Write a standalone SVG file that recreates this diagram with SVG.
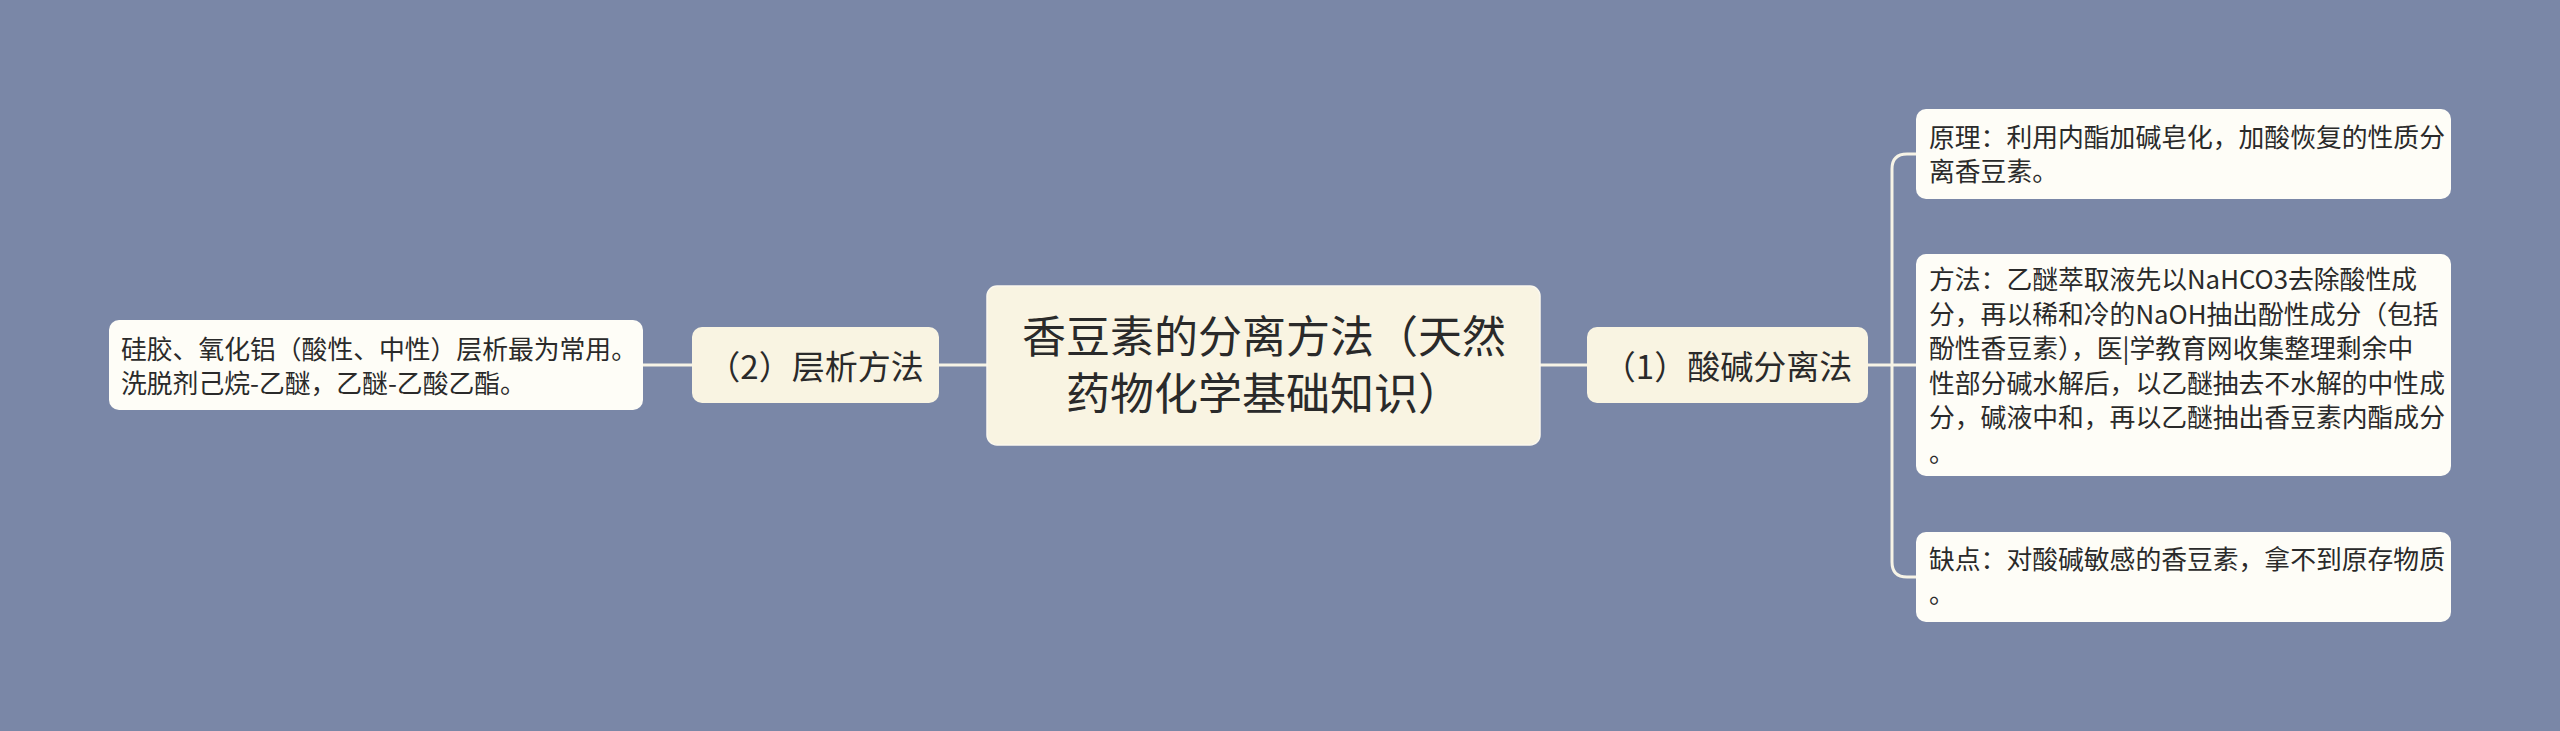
<svg xmlns="http://www.w3.org/2000/svg" width="2560" height="731" viewBox="0 0 2560 731">
<style>
.bg{fill:#7a87a7}
.ln{fill:none;stroke:#f6f3e6;stroke-width:3}
.main{fill:#f9f4e2;stroke:#fbf8ee;stroke-width:1.5}
.sub{fill:#f9f4e2}
.leaf{fill:#fefdf7}
text{font-family:"Noto Sans CJK SC","Noto Sans",sans-serif;fill:#2a2a2a}
.t1{font-size:44px}
.t2{font-size:33px}
.t3{font-size:25.8px}
</style>
<rect class="bg" x="0" y="0" width="2560" height="731"/>
<g id="connectors">
<path class="ln" d="M987,365 H939"/>
<path class="ln" d="M692,365 H643"/>
<path class="ln" d="M1540,365 H1587"/>
<path class="ln" d="M1868,365 H1916"/>
<path class="ln" d="M1916,154 H1907 Q1892,154 1892,169 V562 Q1892,577 1907,577 H1916"/>
</g>
<g id="root">
<rect class="main" x="987" y="286" width="553" height="159" rx="10"/>
<text class="t1" text-anchor="middle"><tspan x="1264" y="353">香豆素的分离方法（天然</tspan><tspan x="1264" y="410">药物化学基础知识）</tspan></text>
</g>
<g id="n-chromatography">
<rect class="sub" x="692" y="327" width="247" height="76" rx="10"/>
<text class="t2" x="815.5" y="379" text-anchor="middle">（2）层析方法</text>
</g>
<g id="leaf-chromatography">
<rect class="leaf" x="109" y="320" width="534" height="90" rx="10"/>
<text class="t3"><tspan x="121" y="359">硅胶、氧化铝（酸性、中性）层析最为常用。</tspan><tspan x="121" y="393">洗脱剂己烷-乙醚，乙醚-乙酸乙酯。</tspan></text>
</g>
<g id="n-acidbase">
<rect class="sub" x="1587" y="327" width="281" height="76" rx="10"/>
<text class="t2" x="1727.5" y="379" text-anchor="middle">（1）酸碱分离法</text>
</g>
<g id="leaf-principle">
<rect class="leaf" x="1916" y="109" width="535" height="90" rx="10"/>
<text class="t3"><tspan x="1929" y="147">原理：利用内酯加碱皂化，加酸恢复的性质分</tspan><tspan x="1929" y="181">离香豆素。</tspan></text>
</g>
<g id="leaf-method">
<rect class="leaf" x="1916" y="254" width="535" height="222" rx="10"/>
<text class="t3"><tspan x="1929" y="289">方法：乙醚萃取液先以NaHCO3去除酸性成</tspan><tspan x="1929" y="323.6">分，再以稀和冷的NaOH抽出酚性成分（包括</tspan><tspan x="1929" y="358.2">酚性香豆素），医|学教育网收集整理剩余中</tspan><tspan x="1929" y="392.8">性部分碱水解后，以乙醚抽去不水解的中性成</tspan><tspan x="1929" y="427.4">分，碱液中和，再以乙醚抽出香豆素内酯成分</tspan><tspan x="1929" y="462">。</tspan></text>
</g>
<g id="leaf-drawback">
<rect class="leaf" x="1916" y="532" width="535" height="90" rx="10"/>
<text class="t3"><tspan x="1929" y="569">缺点：对酸碱敏感的香豆素，拿不到原存物质</tspan><tspan x="1929" y="603">。</tspan></text>
</g>
</svg>
